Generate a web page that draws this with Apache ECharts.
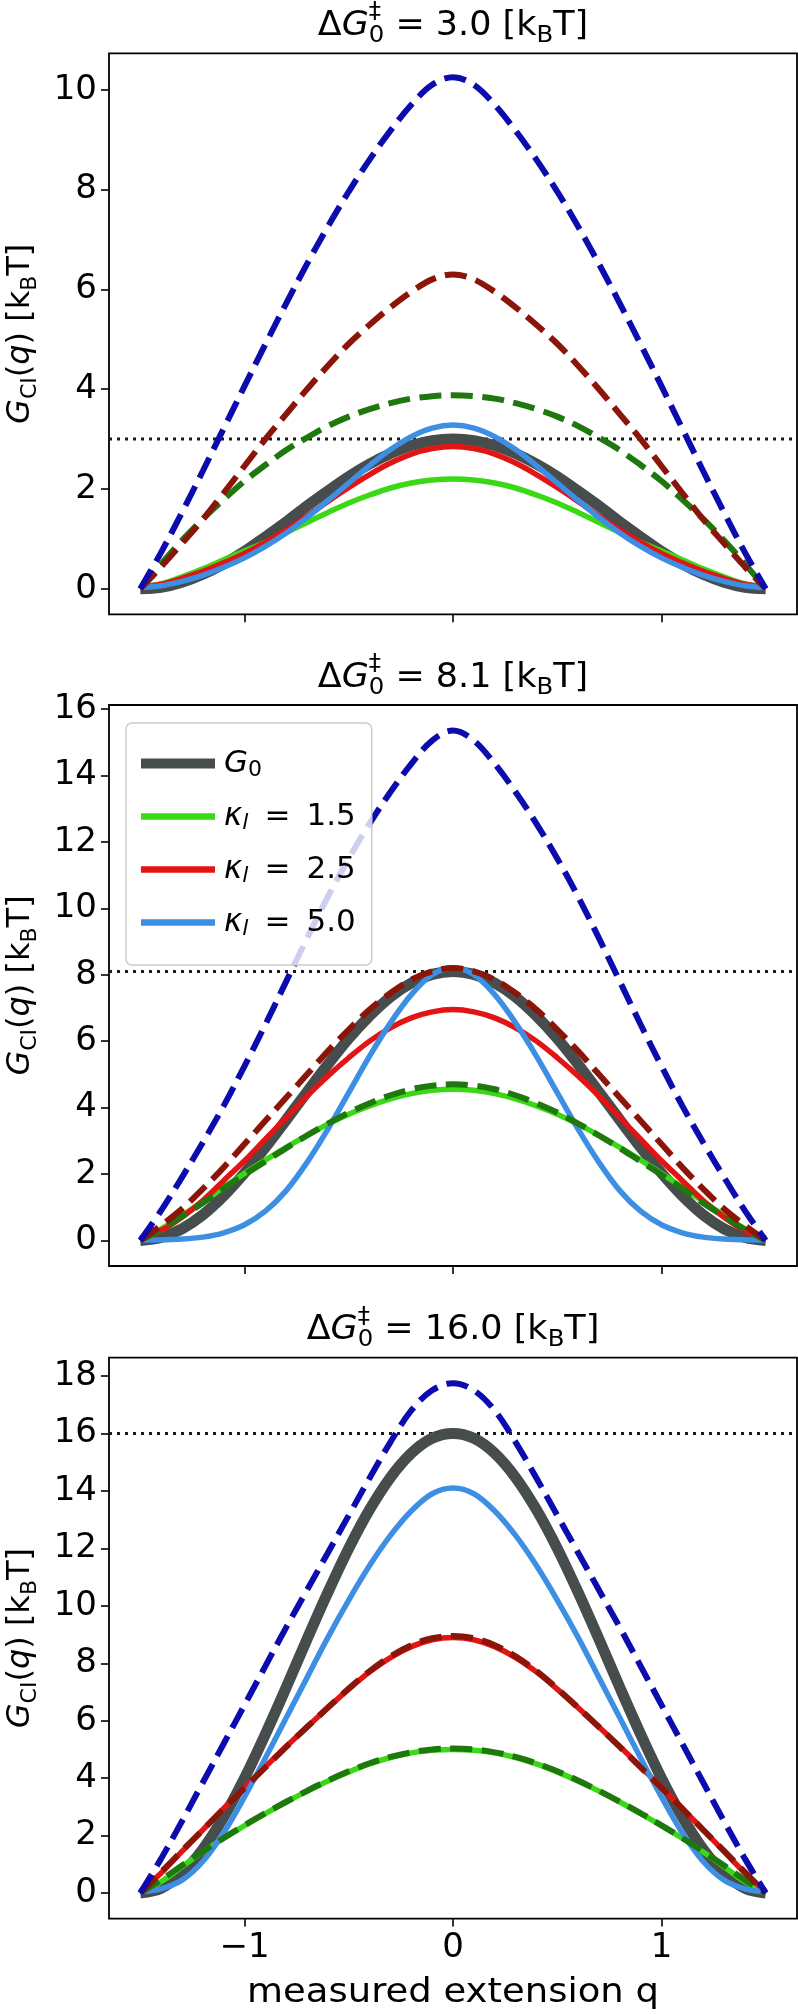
<!DOCTYPE html>
<html>
<head>
<meta charset="utf-8">
<script src="https://cdn.jsdelivr.net/npm/echarts@6/dist/echarts.min.js"></script>
<style>
  html, body { margin: 0; padding: 0; background: #fff; }
  #chart { width: 798px; height: 2014px; }
</style>
</head>
<body>
<div id="chart"></div>
<script>
// measured extension q
const qValues = [-1.5, -1.4, -1.3, -1.2, -1.1, -1.0, -0.9, -0.8, -0.7, -0.6, -0.5, -0.4, -0.3, -0.2, -0.1, 0,
  0.1, 0.2, 0.3, 0.4, 0.5, 0.6, 0.7, 0.8, 0.9, 1.0, 1.1, 1.2, 1.3, 1.4, 1.5]

// panel 1: barrier 3.0
const g0_1 = [0.00, 0.03, 0.13, 0.29, 0.50, 0.75, 1.04, 1.34, 1.66, 1.96, 2.25, 2.50, 2.71, 2.87, 2.97, 3.00, 2.97, 2.87, 2.71, 2.50, 2.25, 1.96, 1.66, 1.34, 1.04, 0.75, 0.50, 0.29, 0.13, 0.03, 0.00]
const k15_1 = [0.03, 0.10, 0.24, 0.40, 0.58, 0.76, 0.93, 1.13, 1.33, 1.53, 1.72, 1.88, 2.02, 2.12, 2.18, 2.20, 2.18, 2.12, 2.02, 1.88, 1.72, 1.53, 1.33, 1.13, 0.93, 0.76, 0.58, 0.40, 0.24, 0.10, 0.03]
const k25_1 = [0.02, 0.09, 0.21, 0.35, 0.52, 0.71, 0.93, 1.18, 1.46, 1.75, 2.03, 2.29, 2.52, 2.70, 2.81, 2.85, 2.81, 2.70, 2.52, 2.29, 2.03, 1.75, 1.46, 1.18, 0.93, 0.71, 0.52, 0.35, 0.21, 0.09, 0.02]
const k50_1 = [0.02, 0.06, 0.15, 0.27, 0.43, 0.62, 0.85, 1.12, 1.43, 1.77, 2.12, 2.47, 2.79, 3.05, 3.22, 3.28, 3.22, 3.05, 2.79, 2.47, 2.12, 1.77, 1.43, 1.12, 0.85, 0.62, 0.43, 0.27, 0.15, 0.06, 0.02]
const d15_1 = [0.00, 0.50, 0.97, 1.40, 1.79, 2.16, 2.48, 2.78, 3.03, 3.26, 3.45, 3.60, 3.72, 3.81, 3.86, 3.88, 3.86, 3.81, 3.72, 3.60, 3.45, 3.26, 3.03, 2.78, 2.48, 2.16, 1.79, 1.40, 0.97, 0.50, 0.00]
const d25_1 = [0.00, 0.44, 0.91, 1.39, 1.92, 2.46, 3.00, 3.50, 4.00, 4.47, 4.91, 5.29, 5.64, 5.95, 6.20, 6.30, 6.20, 5.95, 5.64, 5.29, 4.91, 4.47, 4.00, 3.50, 3.00, 2.46, 1.92, 1.39, 0.91, 0.44, 0.00]
const d50_1 = [0.00, 0.73, 1.53, 2.36, 3.21, 4.06, 4.90, 5.72, 6.51, 7.26, 7.96, 8.60, 9.18, 9.70, 10.10, 10.25, 10.10, 9.70, 9.18, 8.60, 7.96, 7.26, 6.51, 5.72, 4.90, 4.06, 3.21, 2.36, 1.53, 0.73, 0.00]

// panel 2: barrier 8.1
const g0_2 = [0.00, 0.09, 0.35, 0.77, 1.34, 2.03, 2.80, 3.63, 4.47, 5.30, 6.08, 6.76, 7.33, 7.75, 8.01, 8.10, 8.01, 7.75, 7.33, 6.76, 6.08, 5.30, 4.47, 3.63, 2.80, 2.03, 1.34, 0.77, 0.35, 0.09, 0.00]
const k15_2 = [0.05, 0.35, 0.75, 1.17, 1.60, 2.02, 2.42, 2.80, 3.16, 3.50, 3.80, 4.05, 4.26, 4.42, 4.52, 4.55, 4.52, 4.42, 4.26, 4.05, 3.80, 3.50, 3.16, 2.80, 2.42, 2.02, 1.60, 1.17, 0.75, 0.35, 0.05]
const k25_2 = [0.05, 0.30, 0.70, 1.20, 1.80, 2.40, 3.05, 3.70, 4.35, 4.95, 5.50, 6.00, 6.40, 6.70, 6.88, 6.95, 6.88, 6.70, 6.40, 6.00, 5.50, 4.95, 4.35, 3.70, 3.05, 2.40, 1.80, 1.20, 0.70, 0.30, 0.05]
const k50_2 = [0.01, 0.02, 0.04, 0.10, 0.23, 0.47, 0.88, 1.50, 2.35, 3.35, 4.45, 5.55, 6.55, 7.40, 8.00, 8.20, 8.00, 7.40, 6.55, 5.55, 4.45, 3.35, 2.35, 1.50, 0.88, 0.47, 0.23, 0.10, 0.04, 0.02, 0.01]
const d15_2 = [0.00, 0.33, 0.72, 1.13, 1.56, 1.98, 2.38, 2.78, 3.16, 3.52, 3.85, 4.13, 4.37, 4.55, 4.66, 4.70, 4.66, 4.55, 4.37, 4.13, 3.85, 3.52, 3.16, 2.78, 2.38, 1.98, 1.56, 1.13, 0.72, 0.33, 0.00]
const d25_2 = [0.00, 0.45, 0.95, 1.55, 2.20, 2.90, 3.60, 4.30, 5.00, 5.70, 6.35, 6.95, 7.45, 7.85, 8.10, 8.20, 8.10, 7.85, 7.45, 6.95, 6.35, 5.70, 5.00, 4.30, 3.60, 2.90, 2.20, 1.55, 0.95, 0.45, 0.00]
const d50_2 = [0.00, 0.90, 1.90, 2.95, 4.05, 5.25, 6.50, 7.80, 9.10, 10.35, 11.50, 12.55, 13.50, 14.35, 15.05, 15.35, 15.05, 14.35, 13.50, 12.55, 11.50, 10.35, 9.10, 7.80, 6.50, 5.25, 4.05, 2.95, 1.90, 0.90, 0.00]

// panel 3: barrier 16.0
const g0_3 = [0.00, 0.17, 0.69, 1.53, 2.65, 4.00, 5.53, 7.16, 8.84, 10.47, 12.00, 13.35, 14.47, 15.31, 15.83, 16.00, 15.83, 15.31, 14.47, 13.35, 12.00, 10.47, 8.84, 7.16, 5.53, 4.00, 2.65, 1.53, 0.69, 0.17, 0.00]
const k15_3 = [0.03, 0.40, 0.92, 1.43, 1.91, 2.35, 2.77, 3.17, 3.55, 3.90, 4.22, 4.50, 4.72, 4.88, 4.97, 5.00, 4.97, 4.88, 4.72, 4.50, 4.22, 3.90, 3.55, 3.17, 2.77, 2.35, 1.91, 1.43, 0.92, 0.40, 0.03]
const k25_3 = [0.05, 0.70, 1.45, 2.20, 2.95, 3.68, 4.40, 5.10, 5.78, 6.45, 7.10, 7.70, 8.20, 8.58, 8.82, 8.90, 8.82, 8.58, 8.20, 7.70, 7.10, 6.45, 5.78, 5.10, 4.40, 3.68, 2.95, 2.20, 1.45, 0.70, 0.05]
const k50_3 = [0.05, 0.15, 0.45, 1.10, 2.10, 3.35, 4.70, 6.10, 7.50, 8.90, 10.20, 11.40, 12.45, 13.30, 13.90, 14.10, 13.90, 13.30, 12.45, 11.40, 10.20, 8.90, 7.50, 6.10, 4.70, 3.35, 2.10, 1.10, 0.45, 0.15, 0.05]
const d15_3 = [0.00, 0.46, 0.96, 1.45, 1.92, 2.36, 2.78, 3.18, 3.56, 3.92, 4.24, 4.52, 4.74, 4.90, 5.00, 5.03, 5.00, 4.90, 4.74, 4.52, 4.24, 3.92, 3.56, 3.18, 2.78, 2.36, 1.92, 1.45, 0.96, 0.46, 0.00]
const d25_3 = [0.00, 0.73, 1.47, 2.20, 2.94, 3.66, 4.38, 5.09, 5.78, 6.46, 7.12, 7.73, 8.24, 8.63, 8.87, 8.95, 8.87, 8.63, 8.24, 7.73, 7.12, 6.46, 5.78, 5.09, 4.38, 3.66, 2.94, 2.20, 1.47, 0.73, 0.00]
const d50_3 = [0.00, 1.20, 2.50, 3.85, 5.20, 6.55, 7.90, 9.25, 10.55, 11.85, 13.15, 14.45, 15.70, 16.80, 17.50, 17.75, 17.50, 16.80, 15.70, 14.45, 13.15, 11.85, 10.55, 9.25, 7.90, 6.55, 5.20, 3.85, 2.50, 1.20, 0.00]

const barriers = [3.0, 8.1, 16.0]
const barrierLabels = ['3.0', '8.1', '16.0']
const yMins = [-0.511, -0.77, -0.8875]
const yMaxs = [10.73, 16.12, 18.64]
const yTicks1 = [0, 2, 4, 6, 8, 10]
const yTicks2 = [0, 2, 4, 6, 8, 10, 12, 14, 16]
const yTicks3 = [0, 2, 4, 6, 8, 10, 12, 14, 16, 18]
const xTicks = [-1, 0, 1]
const xMin = -1.65
const xMax = 1.65

const panels = [
  { g0: g0_1, solid: [k15_1, k25_1, k50_1], dashed: [d15_1, d25_1, d50_1], yTicks: yTicks1 },
  { g0: g0_2, solid: [k15_2, k25_2, k50_2], dashed: [d15_2, d25_2, d50_2], yTicks: yTicks2 },
  { g0: g0_3, solid: [k15_3, k25_3, k50_3], dashed: [d15_3, d25_3, d50_3], yTicks: yTicks3 },
]

const FONT = '"DejaVu Sans", Verdana, sans-serif'
const GREY = '#474c4d'
const SOLID_COLORS = ['#3bd816', '#e31414', '#3d8fe4']
const DASH_COLORS = ['#1e780e', '#8a1508', '#0c0cae']
const KAPPA_NAMES = ['k1.5', 'k2.5', 'k5.0']

const gridLeft = 109
const gridWidth = 688
const gridTops = [53.3, 705, 1357.6]
const gridHeight = 561

const chart = echarts.init(document.getElementById('chart'), null, { renderer: 'canvas' })

// text helpers for mathtext-like labels
const measureCtx = document.createElement('canvas').getContext('2d')
function measure(t, size, italic) {
  measureCtx.font = (italic ? 'italic ' : '') + size + 'px ' + FONT
  return measureCtx.measureText(t).width
}
function txt(t, x, y, size, italic) {
  return {
    type: 'text', x, y, silent: true,
    style: {
      text: t, fontSize: size, fontFamily: FONT, fontStyle: italic ? 'italic' : 'normal',
      fill: '#000', align: 'left', verticalAlign: 'middle', textAlign: 'left', textVerticalAlign: 'middle'
    }
  }
}
function mathText(pieces, size, x, y, rotation, stretch) {
  const small = Math.round(size * 0.7)
  const kids = []
  let cur = 0
  pieces.forEach(([t, kind]) => {
    if (kind === 'stack') {
      kids.push(txt(t[0], cur, -0.42 * size, small, false))
      kids.push(txt(t[1], cur, 0.3 * size, small, false))
      cur += Math.max(measure(t[0], small, false), measure(t[1], small, false))
    } else {
      const isSub = kind === 'sub' || kind === 'subi'
      const it = kind === 'i' || kind === 'subi'
      const sz = isSub ? small : size
      kids.push(txt(t, cur, isSub ? 0.3 * size : 0, sz, it))
      cur += measure(t, sz, it)
    }
  })
  kids.forEach(k => { k.x -= cur / 2 })
  return { type: 'group', x, y, rotation: rotation || 0, scaleX: stretch || 1, children: kids }
}

function curve(name, idx, values, color, width, dashed) {
  return {
    type: 'line', name, xAxisIndex: idx, yAxisIndex: idx,
    data: qValues.map((q, i) => [q, values[i]]),
    symbol: 'none', showSymbol: false, smooth: 0.35,
    lineStyle: { color, width, type: dashed ? [22, 9.5] : 'solid', cap: 'butt' },
    itemStyle: { color },
    emphasis: { disabled: true },
    silent: true
  }
}

const grids = [], xAxes = [], yAxes = [], series = [], graphics = []
panels.forEach((p, i) => {
  grids.push({
    left: gridLeft, top: gridTops[i], width: gridWidth, height: gridHeight,
    show: true, borderColor: '#000', borderWidth: 1.8, backgroundColor: 'transparent'
  })
  xAxes.push({
    type: 'value', gridIndex: i, min: xMin, max: xMax, position: 'bottom',
    axisLine: { show: false, onZero: false }, splitLine: { show: false },
    axisTick: { show: true, customValues: xTicks, length: 8, lineStyle: { color: '#000', width: 1.6 } },
    axisLabel: {
      show: i === 2, customValues: xTicks, margin: 13,
      formatter: v => (v < 0 ? '\u2212' + Math.abs(v) : String(v)),
      fontSize: 34, fontFamily: FONT, color: '#000'
    }
  })
  yAxes.push({
    type: 'value', gridIndex: i, min: yMins[i], max: yMaxs[i], position: 'left',
    axisLine: { show: false, onZero: false }, splitLine: { show: false },
    axisTick: { show: true, customValues: p.yTicks, length: 8, lineStyle: { color: '#000', width: 1.6 } },
    axisLabel: { customValues: p.yTicks, margin: 12, fontSize: 34, fontFamily: FONT, color: '#000' }
  })

  // dotted level of the barrier height
  series.push({
    type: 'line', name: 'barrier' + i, xAxisIndex: i, yAxisIndex: i,
    data: [[xMin, barriers[i]], [xMax, barriers[i]]],
    symbol: 'none', silent: true,
    lineStyle: { color: '#1a1a1a', width: 3, type: [3, 5] }
  })
  series.push(curve('G0', i, p.g0, GREY, 11, false))
  p.solid.forEach((vals, k) => series.push(curve(KAPPA_NAMES[k], i, vals, SOLID_COLORS[k], 5.5, false)))
  p.dashed.forEach((vals, k) => series.push(curve('dash' + k + '_' + i, i, vals, DASH_COLORS[k], 6, true)))

  // panel title
  graphics.push(mathText([
    ['\u0394', ''], ['G', 'i'], [['\u2021', '0'], 'stack'],
    [' = ' + barrierLabels[i] + ' [k', ''], ['B', 'sub'], ['T]', '']
  ], 33, gridLeft + gridWidth / 2, gridTops[i] - 27, 0, 1.06))

  // y axis name
  graphics.push(mathText([
    ['G', 'i'], ['CI', 'sub'], ['(', ''], ['q', 'i'], [') [k', ''], ['B', 'sub'], ['T]', '']
  ], 32, 21, gridTops[i] + gridHeight / 2, Math.PI / 2))
})

graphics.push(mathText([['measured extension q', '']], 33, gridLeft + gridWidth / 2, 1993, 0, 1.12))

const legendLabels = {
  'G0': '{gi|G}{sub|0}',
  'k1.5': '{gi|\u03ba}{subi|l}{n| \u2009=\u2009 1.5}',
  'k2.5': '{gi|\u03ba}{subi|l}{n| \u2009=\u2009 2.5}',
  'k5.0': '{gi|\u03ba}{subi|l}{n| \u2009=\u2009 5.0}'
}

const option = {
  animation: false,
  backgroundColor: '#fff',
  grid: grids,
  xAxis: xAxes,
  yAxis: yAxes,
  series,
  legend: {
    data: [
      { name: 'G0', lineStyle: { width: 10 } },
      { name: 'k1.5', lineStyle: { width: 6.5 } },
      { name: 'k2.5', lineStyle: { width: 6.5 } },
      { name: 'k5.0', lineStyle: { width: 6.5 } }
    ],
    orient: 'vertical', left: 126, top: 723,
    itemWidth: 74, itemHeight: 14, itemGap: 20,
    padding: [25, 16, 25, 10],
    itemStyle: { opacity: 0 },
    backgroundColor: 'rgba(255,255,255,0.8)',
    borderColor: '#cccccc', borderWidth: 1.5, borderRadius: 6,
    selectedMode: false,
    formatter: n => legendLabels[n],
    textStyle: {
      fontFamily: FONT, fontSize: 31, color: '#000', padding: [0, 0, 0, 4],
      rich: {
        gi: { fontFamily: FONT, fontSize: 31, fontStyle: 'italic', lineHeight: 35 },
        n: { fontFamily: FONT, fontSize: 31, lineHeight: 35 },
        sub: { fontFamily: FONT, fontSize: 22, lineHeight: 12, verticalAlign: 'bottom' },
        subi: { fontFamily: FONT, fontSize: 22, fontStyle: 'italic', lineHeight: 12, verticalAlign: 'bottom' }
      }
    }
  },
  graphic: graphics
}

chart.setOption(option)
</script>
</body>
</html>
